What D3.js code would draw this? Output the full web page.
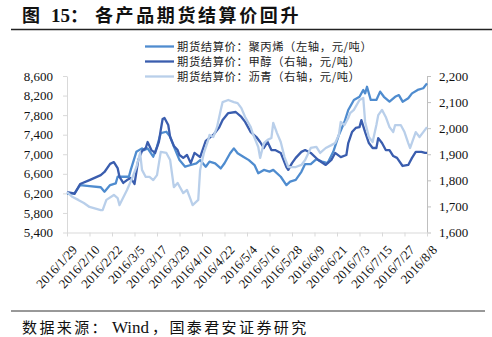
<!DOCTYPE html>
<html>
<head>
<meta charset="utf-8">
<script src="https://cdn.jsdelivr.net/npm/d3@7"></script>
<style>
  body { margin: 0; background: #fff; }
  svg { display: block; }
</style>
</head>
<body>
<svg id="chart" width="492" height="337"></svg>
<script>
// Settlement prices, 元/吨
const polypropylene = [
  ["2016-01-29",6190],["2016-02-02",6200],["2016-02-05",6370],["2016-02-10",6350],["2016-02-16",6325],
  ["2016-02-18",6235],["2016-02-21",6370],["2016-02-24",6405],["2016-02-25",6540],["2016-02-28",6540],
  ["2016-03-02",6540],["2016-03-03",6680],["2016-03-06",7050],["2016-03-09",7120],["2016-03-10",7085],
  ["2016-03-12",7120],["2016-03-15",6950],["2016-03-17",7155],["2016-03-19",7430],["2016-03-22",7460],
  ["2016-03-24",7360],["2016-03-26",7155],["2016-03-29",6880],["2016-04-01",6745],["2016-04-04",6780],
  ["2016-04-07",6815],["2016-04-09",6880],["2016-04-12",6745],["2016-04-14",6850],["2016-04-17",6815],
  ["2016-04-20",6710],["2016-04-22",6815],["2016-04-25",7020],["2016-04-27",7120],["2016-04-29",7020],
  ["2016-05-02",6950],["2016-05-05",6880],["2016-05-08",6780],["2016-05-10",6610],["2016-05-13",6680],
  ["2016-05-16",6645],["2016-05-18",6680],["2016-05-22",6540],["2016-05-25",6370],["2016-05-27",6440],
  ["2016-05-30",6475],["2016-06-02",6640],["2016-06-04",6800],["2016-06-07",6800],["2016-06-10",6900],
  ["2016-06-13",6850],["2016-06-16",6820],["2016-06-19",7050],["2016-06-22",7395],["2016-06-25",7665],
  ["2016-06-27",7905],["2016-06-30",8110],["2016-07-03",8175],["2016-07-05",8315],["2016-07-06",8245],
  ["2016-07-07",8380],["2016-07-09",8110],["2016-07-12",8110],["2016-07-14",8280],["2016-07-16",8175],
  ["2016-07-19",8075],["2016-07-22",8175],["2016-07-24",8210],["2016-07-26",8075],["2016-07-29",8145],
  ["2016-07-31",8245],["2016-08-03",8315],["2016-08-06",8350],["2016-08-08",8450]
];
const methanol = [
  ["2016-01-29",1755],["2016-02-01",1751],["2016-02-02",1748],["2016-02-05",1786],["2016-02-10",1801],
  ["2016-02-16",1820],["2016-02-18",1832],["2016-02-21",1863],["2016-02-23",1870],["2016-02-25",1847],
  ["2016-02-26",1813],["2016-02-28",1790],["2016-03-01",1801],["2016-03-03",1809],["2016-03-05",1786],
  ["2016-03-07",1878],["2016-03-09",1912],["2016-03-11",1924],["2016-03-12",1947],["2016-03-14",1916],
  ["2016-03-16",1905],["2016-03-18",1947],["2016-03-19",1993],["2016-03-20",2035],["2016-03-21",2039],
  ["2016-03-23",2012],["2016-03-24",1966],["2016-03-26",1932],["2016-03-28",1916],["2016-03-29",1897],
  ["2016-03-31",1886],["2016-04-02",1897],["2016-04-04",1866],["2016-04-06",1905],["2016-04-09",1889],
  ["2016-04-12",1951],["2016-04-16",1974],["2016-04-19",2001],["2016-04-21",2031],["2016-04-24",2058],
  ["2016-04-28",2062],["2016-05-01",2043],["2016-05-03",2024],["2016-05-06",1985],["2016-05-09",1966],
  ["2016-05-11",1947],["2016-05-13",1924],["2016-05-15",1947],["2016-05-17",1916],["2016-05-19",1916],
  ["2016-05-22",1905],["2016-05-25",1851],["2016-05-26",1840],["2016-05-28",1866],["2016-05-30",1886],
  ["2016-06-02",1909],["2016-06-04",1916],["2016-06-07",1905],["2016-06-11",1878],["2016-06-15",1859],
  ["2016-06-18",1878],["2016-06-20",1905],["2016-06-23",1889],["2016-06-26",1897],["2016-06-27",1943],
  ["2016-06-29",1985],["2016-07-01",2001],["2016-07-03",2004],["2016-07-04",2031],["2016-07-06",1985],
  ["2016-07-08",1943],["2016-07-10",1924],["2016-07-12",1924],["2016-07-13",1962],["2016-07-15",1943],
  ["2016-07-17",1916],["2016-07-19",1916],["2016-07-21",1893],["2016-07-23",1886],["2016-07-26",1855],
  ["2016-07-29",1859],["2016-07-31",1886],["2016-08-02",1909],["2016-08-05",1909],["2016-08-07",1905],
  ["2016-08-08",1905]
];
const asphalt = [
  ["2016-01-29",1755],["2016-02-01",1736],["2016-02-04",1725],["2016-02-07",1713],["2016-02-10",1698],
  ["2016-02-16",1686],["2016-02-17",1686],["2016-02-19",1725],["2016-02-23",1744],["2016-02-25",1732],
  ["2016-02-26",1705],["2016-03-01",1763],["2016-03-04",1813],["2016-03-06",1851],["2016-03-08",1905],
  ["2016-03-09",1840],["2016-03-11",1813],["2016-03-13",1813],["2016-03-15",1801],["2016-03-17",1820],
  ["2016-03-19",1909],["2016-03-22",1905],["2016-03-24",1878],["2016-03-26",1774],["2016-03-28",1790],
  ["2016-03-31",1751],["2016-04-02",1763],["2016-04-04",1725],["2016-04-05",1705],["2016-04-08",1725],
  ["2016-04-09",1840],["2016-04-11",1905],["2016-04-13",1947],["2016-04-14",1974],["2016-04-16",1966],
  ["2016-04-18",2004],["2016-04-20",2070],["2016-04-21",2100],["2016-04-24",2108],["2016-04-27",2100],
  ["2016-04-29",2096],["2016-05-01",2077],["2016-05-03",2043],["2016-05-06",2004],["2016-05-07",1981],
  ["2016-05-10",1928],["2016-05-11",1886],["2016-05-13",1943],["2016-05-15",1955],["2016-05-17",1962],
  ["2016-05-18",2020],["2016-05-20",1981],["2016-05-22",1947],["2016-05-24",1889],["2016-05-26",1851],
  ["2016-05-30",1851],["2016-06-02",1859],["2016-06-04",1878],["2016-06-07",1924],["2016-06-10",1928],
  ["2016-06-12",1905],["2016-06-15",1924],["2016-06-18",1935],["2016-06-20",1943],["2016-06-22",1974],
  ["2016-06-23",2024],["2016-06-25",2012],["2016-06-27",2039],["2016-06-28",2058],["2016-06-30",2070],
  ["2016-07-03",2108],["2016-07-05",2116],["2016-07-06",2024],["2016-07-08",1966],["2016-07-10",1947],
  ["2016-07-12",2012],["2016-07-13",2050],["2016-07-15",2070],["2016-07-17",2043],["2016-07-19",2004],
  ["2016-07-21",1985],["2016-07-22",2012],["2016-07-25",2012],["2016-07-27",1985],["2016-07-29",1943],
  ["2016-07-30",1924],["2016-08-02",1985],["2016-08-04",1966],["2016-08-06",1985],["2016-08-08",2004]
];

const leftTicks = [5400, 5800, 6200, 6600, 7000, 7400, 7800, 8200, 8600];
const rightTicks = [1600, 1700, 1800, 1900, 2000, 2100, 2200];
const dateTicks = [
  "2016-01-29","2016-02-10","2016-02-22","2016-03-05","2016-03-17","2016-03-29",
  "2016-04-10","2016-04-22","2016-05-04","2016-05-16","2016-05-28","2016-06-09",
  "2016-06-21","2016-07-03","2016-07-15","2016-07-27","2016-08-08"
];
const legendLabels = [
  "期货结算价：聚丙烯（左轴，元/吨）",
  "期货结算价：甲醇（右轴，元/吨）",
  "期货结算价：沥青（右轴，元/吨）"
];
const colors = ["#4f8ccf", "#3a5dae", "#b9cfea"];

const parse = d3.timeParse("%Y-%m-%d");
const svg = d3.select("#chart");

const plot = { left: 67, right: 427, top: 76, bottom: 232.5 };

const x = d3.scaleTime()
  .domain([parse("2016-01-29"), parse("2016-08-08")])
  .range([plot.left, plot.right]);
const yLeft = d3.scaleLinear().domain([5400, 8600]).range([plot.bottom, plot.top]);
const yRight = d3.scaleLinear().domain([1600, 2200]).range([plot.bottom, plot.top]);

const serif = "'Liberation Serif', 'Times New Roman', serif";
const cjk = "'Noto Sans CJK SC', 'Noto Sans', sans-serif";

// Title and rules
const title = svg.append("text")
  .attr("y", 22)
  .attr("font-weight", "bold")
  .attr("font-size", 18)
  .attr("fill", "#111");
title.append("tspan").attr("x", 22).attr("font-family", cjk).text("图");
title.append("tspan").attr("x", 51).attr("font-family", serif).attr("font-size", 19).text("15");
title.append("tspan").attr("x", 70).attr("font-family", cjk).text("：");
title.append("tspan").attr("x", 95).attr("font-family", cjk)
  .attr("letter-spacing", "2.6px").text("各产品期货结算价回升");

svg.append("line").attr("x1", 11).attr("x2", 492).attr("y1", 29.5).attr("y2", 29.5)
  .attr("stroke", "#222").attr("stroke-width", 1.5);
svg.append("line").attr("x1", 11).attr("x2", 485).attr("y1", 311).attr("y2", 311)
  .attr("stroke", "#333").attr("stroke-width", 1);

const source = svg.append("text")
  .attr("y", 333)
  .attr("font-size", 15)
  .attr("fill", "#111");
source.append("tspan").attr("x", 22).attr("font-family", cjk)
  .attr("letter-spacing", "2.4px").text("数据来源：");
source.append("tspan").attr("x", 112).attr("font-family", serif).attr("font-size", 17).text("Wind");
source.append("tspan").attr("x", 152).attr("font-family", cjk)
  .attr("letter-spacing", "2.4px").text("，国泰君安证券研究");

// Axes
const gLeft = svg.append("g")
  .attr("transform", `translate(${plot.left},0)`)
  .call(d3.axisLeft(yLeft).tickValues(leftTicks).tickFormat(d3.format(",")).tickSize(4).tickSizeOuter(0).tickPadding(10));
const gRight = svg.append("g")
  .attr("transform", `translate(${plot.right},0)`)
  .call(d3.axisRight(yRight).tickValues(rightTicks).tickFormat(d3.format(",")).tickSize(4).tickSizeOuter(0).tickPadding(8));
const gBottom = svg.append("g")
  .attr("transform", `translate(0,${plot.bottom})`)
  .call(d3.axisBottom(x).tickValues(dateTicks.map(parse)).tickFormat(d3.timeFormat("%Y/%-m/%-d")).tickSize(4).tickSizeOuter(0));

[gLeft, gRight, gBottom].forEach(g => {
  g.selectAll("text").attr("font-family", serif).attr("font-size", 13).attr("fill", "#111");
});
gLeft.select(".domain").attr("stroke", "#d9d9d9");
gLeft.selectAll(".tick line").attr("stroke", "#d9d9d9");
gRight.select(".domain").attr("stroke", "#bfbfbf");
gRight.selectAll(".tick line").attr("stroke", "#bfbfbf");
gBottom.select(".domain").attr("stroke", "#d9d9d9");
gBottom.selectAll(".tick line").attr("stroke", "#d9d9d9");

gBottom.selectAll(".tick text")
  .attr("text-anchor", "end")
  .attr("dy", "0.35em")
  .attr("transform", "translate(7,15) rotate(-47)")
  .attr("y", 0);

// Series lines
const series = [
  { data: polypropylene, y: yLeft },
  { data: methanol, y: yRight },
  { data: asphalt, y: yRight }
];
series.forEach((s, i) => {
  const line = d3.line()
    .x(d => x(parse(d[0])))
    .y(d => s.y(d[1]));
  svg.append("path")
    .datum(s.data)
    .attr("fill", "none")
    .attr("stroke", colors[i])
    .attr("stroke-width", 2.3)
    .attr("stroke-linejoin", "round")
    .attr("d", line);
});

// Legend
const legend = svg.append("g");
legendLabels.forEach((label, i) => {
  const yy = 46.5 + i * 15;
  legend.append("line")
    .attr("x1", 145).attr("x2", 174).attr("y1", yy).attr("y2", yy)
    .attr("stroke", colors[i]).attr("stroke-width", 2.3);
  legend.append("text")
    .attr("x", 177).attr("y", yy).attr("dy", "0.36em")
    .attr("font-family", cjk).attr("font-size", 11.3)
    .attr("letter-spacing", "0.6px")
    .attr("fill", "#222")
    .text(label);
});
</script>
</body>
</html>
